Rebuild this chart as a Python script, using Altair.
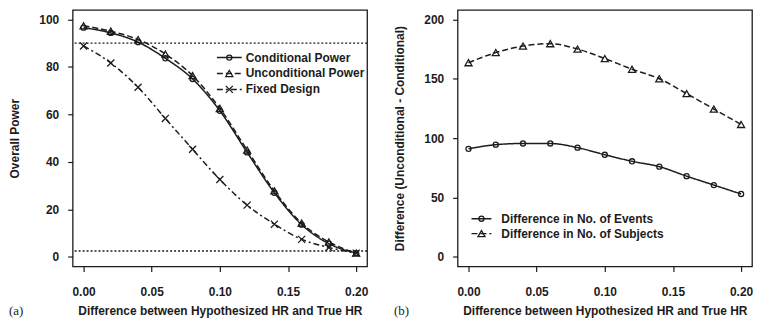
import altair as alt
import pandas as pd

# ---------------- data ----------------
hr_diff = [0.00, 0.02, 0.04, 0.06, 0.08, 0.10, 0.12, 0.14, 0.16, 0.18, 0.20]
cond_power = [96.5, 94.3, 90.4, 83.6, 74.9, 61.5, 44.0, 27.0, 13.6, 5.6, 1.6]
uncond_power = [97.3, 95.0, 91.5, 85.4, 76.3, 62.5, 45.0, 27.8, 14.2, 6.3, 1.6]
fixed_power = [88.8, 81.6, 71.4, 58.3, 45.3, 32.6, 21.8, 13.8, 7.4, 4.0, 1.6]
ref_levels = [90.0, 2.5]

events_diff = [91.0, 94.5, 95.5, 95.5, 92.0, 86.0, 80.5, 76.0, 68.0, 60.5, 53.0]
subjects_diff = [163.5, 172.0, 177.5, 179.5, 175.0, 167.0, 158.0, 150.0, 137.5, 124.5, 111.5]

left_labels = ["Conditional Power", "Unconditional Power", "Fixed Design"]
right_labels = ["Difference in No. of Events", "Difference in No. of Subjects"]
x_ticks = [0.0, 0.05, 0.10, 0.15, 0.20]
left_y_ticks = [0, 20, 40, 60, 80, 100]
right_y_ticks = [0, 50, 100, 150, 200]

# ---------------- style ----------------
W, H = 296, 258
INK = "#1c1c1c"
FONT = "Liberation Sans"
X_PATH = "M-1,-1L1,1M-1,1L1,-1"
SOLID = [1, 0]
DASH = [6, 3]
DASHDOT = [6, 3, 2, 3]

x_title = "Difference between Hypothesized HR and True HR"


def x_enc():
    return alt.X(
        "x:Q",
        scale=alt.Scale(domain=[-0.008, 0.208], nice=False, zero=False),
        axis=alt.Axis(values=x_ticks, format=".2f", title=x_title),
    )


def y_enc(field, domain, ticks, title):
    return alt.Y(
        f"{field}:Q",
        scale=alt.Scale(domain=domain, nice=False, zero=False),
        axis=alt.Axis(values=ticks, format="d", title=title),
    )


def series(xs, ys, dash, shape, size, domain, ticks, title):
    df = pd.DataFrame({"x": xs, "y": ys})
    base = alt.Chart(df)
    line = base.mark_line(color=INK, strokeWidth=1.5, strokeDash=dash,
                          interpolate="monotone").encode(
        x=x_enc(), y=y_enc("y", domain, ticks, title))
    pts = base.mark_point(color=INK, filled=False, strokeWidth=1.3,
                          shape=shape, size=size, opacity=1).encode(
        x=x_enc(), y=y_enc("y", domain, ticks, title))
    return [line, pts]


def legend_row(label, dash, shape, size, x0, x1, y, tx):
    df = pd.DataFrame({"label": [label]})
    b = alt.Chart(df)
    seg = b.mark_rule(color=INK, strokeWidth=1.5, strokeDash=dash).encode(
        x=alt.value(x0), x2=alt.value(x1), y=alt.value(y))
    pt = b.mark_point(color=INK, filled=False, strokeWidth=1.3, shape=shape,
                      size=size, opacity=1).encode(
        x=alt.value((x0 + x1) / 2), y=alt.value(y))
    txt = b.mark_text(align="left", baseline="middle", font=FONT, fontSize=12,
                      fontWeight="bold", color=INK).encode(
        text="label:N", x=alt.value(tx), y=alt.value(y))
    return [seg, pt, txt]


def panel_tag(tag):
    df = pd.DataFrame({"t": [tag]})
    return alt.Chart(df).mark_text(align="left", baseline="alphabetic",
                                   font="Liberation Serif", fontSize=13,
                                   color=INK).encode(
        text="t:N", x=alt.value(-64), y=alt.value(H + 49))


# ---------------- left panel ----------------
LD = [-4, 104]
ltitle = "Overall Power"
left_layers = []
ref_df = pd.DataFrame({"y": ref_levels})
left_layers.append(alt.Chart(ref_df).mark_rule(color=INK, strokeWidth=1.3,
                                               strokeDash=[2, 2]).encode(
    y=y_enc("y", LD, left_y_ticks, ltitle)))
left_layers += series(hr_diff, fixed_power, DASHDOT, X_PATH, 50, LD, left_y_ticks, ltitle)
left_layers += series(hr_diff, uncond_power, DASH, "triangle-up", 50, LD, left_y_ticks, ltitle)
left_layers += series(hr_diff, cond_power, SOLID, "circle", 26, LD, left_y_ticks, ltitle)
left_layers += legend_row(left_labels[0], SOLID, "circle", 26, 145, 170, 48, 174)
left_layers += legend_row(left_labels[1], DASH, "triangle-up", 50, 145, 170, 64, 174)
left_layers += legend_row(left_labels[2], DASHDOT, X_PATH, 50, 145, 170, 80, 174)
left_layers.append(panel_tag("(a)"))
left = alt.layer(*left_layers).properties(width=W, height=H)

# ---------------- right panel ----------------
RD = [-8, 208]
rtitle = "Difference (Unconditional - Conditional)"
right_layers = []
right_layers += series(hr_diff, subjects_diff, DASH, "triangle-up", 50, RD, right_y_ticks, rtitle)
right_layers += series(hr_diff, events_diff, SOLID, "circle", 26, RD, right_y_ticks, rtitle)
right_layers += legend_row(right_labels[0], SOLID, "circle", 26, 14, 34, 210, 44)
right_layers += legend_row(right_labels[1], DASH, "triangle-up", 50, 14, 34, 225, 44)
right_layers.append(panel_tag("(b)"))
right = alt.layer(*right_layers).properties(width=W, height=H)

chart = alt.hconcat(left, right, spacing=24).properties(
    padding={"left": 0, "top": 0, "right": 0, "bottom": 0},
    background="white",
).configure_view(
    stroke=INK, strokeWidth=1.3
).configure_axis(
    grid=False, domain=False, ticks=True, tickColor=INK, tickSize=5,
    tickWidth=1.2,
    labelFont=FONT, labelFontSize=12, labelFontWeight="bold", labelColor=INK,
    titleFont=FONT, titleFontSize=12, titleFontWeight="bold", titleColor=INK,
).configure_axisX(
    labelPadding=15, titlePadding=8
).configure_axisY(
    labelPadding=9, titlePadding=17
)

chart.save("out.html", embed_options={"renderer": "svg", "actions": False})
